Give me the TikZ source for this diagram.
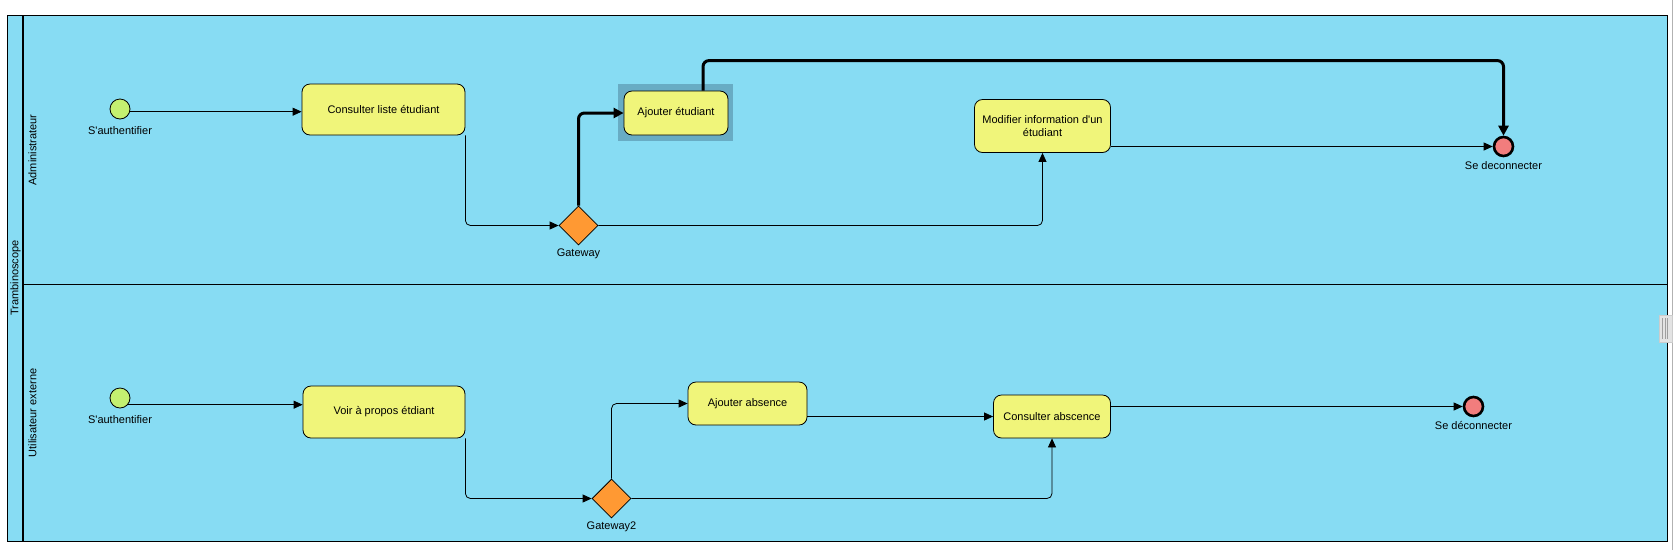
\documentclass[tikz,border=0pt]{standalone}
\usepackage{fontspec}
\setmainfont{Liberation Sans}
\usetikzlibrary{shapes.geometric, arrows.meta, positioning}

\definecolor{laneblue}{RGB}{135,220,243}
\definecolor{taskyellow}{RGB}{240,245,122}
\definecolor{startgreen}{RGB}{196,240,112}
\definecolor{endred}{RGB}{242,125,125}
\definecolor{gateorange}{RGB}{255,153,51}
\definecolor{selteal}{RGB}{104,172,196}

\begin{document}
\begin{tikzpicture}[x=1pt, y=-1pt,
    every node/.style={font=\fontsize{11}{13}\selectfont},
    task/.style={draw, line width=0.8pt, fill=taskyellow, rounded corners=8pt, align=center, inner sep=0pt},
    startev/.style={draw, circle, line width=0.8pt, fill=startgreen, minimum size=20pt, inner sep=0pt},
    endev/.style={draw, circle, line width=2.6pt, fill=endred, minimum size=19pt, inner sep=0pt},
    gate/.style={draw, diamond, line width=0.8pt, fill=gateorange, minimum width=39pt, minimum height=39pt, inner sep=0pt},
    flow/.style={line width=0.8pt, rounded corners=5pt, -{Triangle[length=9pt, width=8pt]}},
    bigflow/.style={line width=3pt, rounded corners=6pt, -{Triangle[length=10pt, width=10pt]}}]
    \useasboundingbox (0,0) rectangle (1673,550);

    % Pool and lanes
    \draw[line width=0.8pt, fill=laneblue] (7.5,15) rectangle (1667,541);
    \draw[line width=2pt] (23,15) -- (23,541);
    \draw[line width=0.8pt] (23,284) -- (1667,284);
    \node[rotate=90] (pool) at (15.5,278) {Trambinoscope};
    \node[rotate=90] (admin) at (32.5,150) {Administrateur};
    \node[rotate=90] (extern) at (32.5,413) {Utilisateur externe};

    % Resize handle
    \draw[gray!60] (1672,0) -- (1672,550);
    \draw[gray!40, fill=gray!22] (1659,315) rectangle (1672,342);
    \foreach \hx in {1662.7,1665,1667.3}
        \draw[gray!75, line width=0.9pt] (\hx,318) -- (\hx,339);

    % Administrateur lane
    \node[startev, label={[label distance=4pt]below:S\textquotesingle authentifier}] (start1) at (120,109) {};
    \node[task, minimum width=163pt, minimum height=51pt] (consult) at (383.5,109.5) {Consulter liste étudiant};
    \node[gate, label={[label distance=0pt]below:Gateway}] (gw1) at (578.5,225.5) {};
    \fill[selteal] (618,84) rectangle (733,141);
    \node[task, minimum width=104pt, minimum height=44pt] (addstud) at (676,113) {Ajouter étudiant};
    \node[task, minimum width=136pt, minimum height=53pt] (modif) at (1042.5,126) {Modifier information d\textquotesingle un\\étudiant};
    \node[endev, label={[label distance=1pt]below:Se deconnecter}] (end1) at (1503.5,146.5) {};

    \draw[flow] (start1.-15) -- (start1.-15 -| consult.west);
    \draw[flow] (consult.south east) |- (gw1.west);
    \draw[bigflow] (gw1.north) |- (addstud.west);
    \draw[bigflow] ([xshift=27pt]addstud.north) -- ++(0,-30) -| (end1.north);
    \draw[flow] (gw1.east) -| (modif.south);
    \draw[flow] (modif.east |- end1.west) -- (end1.west);

    % Utilisateur externe lane
    \node[startev, label={[label distance=4pt]below:S\textquotesingle authentifier}] (start2) at (120,398) {};
    \node[task, minimum width=162pt, minimum height=52pt] (voir) at (384,412) {Voir à propos étdiant};
    \node[gate, label={[label distance=0pt]below:Gateway2}] (gw2) at (611.5,498.5) {};
    \node[task, minimum width=119pt, minimum height=43pt] (addabs) at (747.5,403.5) {Ajouter absence};
    \node[task, minimum width=117pt, minimum height=43pt] (consabs) at (1052,416.5) {Consulter abscence};
    \node[endev, label={[label distance=1pt]below:Se déconnecter}] (end2) at (1473.5,406.5) {};

    \draw[flow] (start2.-40) -- (start2.-40 -| voir.west);
    \draw[flow] (voir.south east) |- (gw2.west);
    \draw[flow] (gw2.north) |- (addabs.west);
    \draw[flow] (addabs.east |- consabs.west) -- (consabs.west);
    \draw[flow] (gw2.east) -| (consabs.south);
    \draw[flow] (consabs.east |- end2.west) -- (end2.west);
\end{tikzpicture}
\end{document}
